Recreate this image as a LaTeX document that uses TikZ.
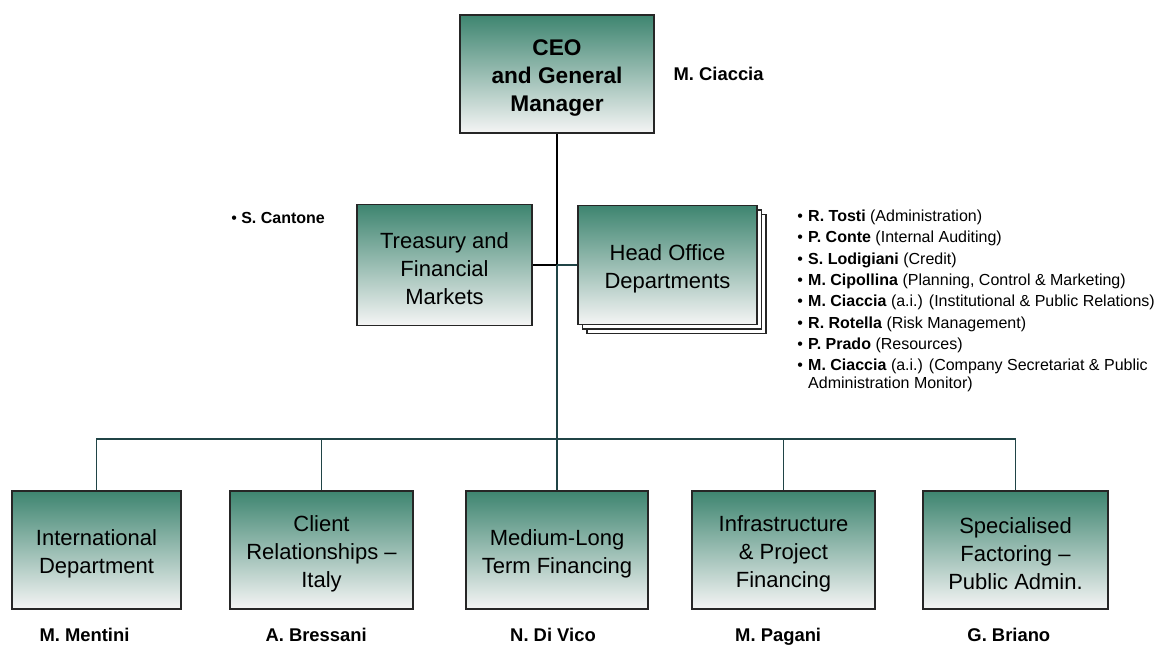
\documentclass[tikz,border=0pt]{standalone}
\usepackage{fontspec}
\setmainfont{Liberation Sans}
\usetikzlibrary{positioning}

\definecolor{boxgreen}{RGB}{62,133,112}
\definecolor{linkteal}{RGB}{32,68,70}

% lowers the text of a unit box a little
\newcommand{\firstline}{\rule{0pt}{17.5pt}}

\tikzset{
  unitbox/.style={rectangle,draw=black!85,line width=1pt,top color=boxgreen,middle color=boxgreen!40!white,bottom color=white!96!black,
    align=center,font=\fontsize{16.5}{20.8}\selectfont,inner sep=2pt,minimum height=88.5pt},
  stackcopy/.style={rectangle,draw=black!85,line width=1pt,fill=white,minimum width=134.25pt,minimum height=89.25pt},
  namelabel/.style={font=\fontsize{13.8}{16}\selectfont\bfseries,inner sep=0pt},
  link/.style={draw=linkteal,line width=0.9pt}
}

\begin{document}
\begin{tikzpicture}[x=0.75pt,y=-0.75pt]
\useasboundingbox (0,0) rectangle (1156,646);

% top of the chart
\node[unitbox,minimum width=145.5pt,font=\fontsize{17}{20.8}\selectfont\bfseries] (ceo) at (557,74) {\firstline CEO\\and General\\Manager};
\node[namelabel,right=14pt of ceo] (ceoname) {M. Ciaccia};

% staff units
\node[unitbox,minimum width=131.25pt,minimum height=90.75pt] (treasury) at (444.5,265) {\firstline Treasury and\\Financial\\Markets};
\node[anchor=west,inner sep=0pt,font=\fontsize{12}{13}\selectfont] (cantone) at (231,218) {\textbullet\ \textbf{S. Cantone}};

\node[stackcopy] (hodback) at (676.5,274) {};
\node[stackcopy] (hodmid) at (672,269.5) {};
\node[unitbox,minimum width=134.25pt,minimum height=89.25pt] (hod) at (667.5,265) {\firstline Head Office\\Departments};
\node[anchor=north west,inner sep=0pt,font=\fontsize{12}{13}\selectfont] (hodlist) at (797,209) {%
  \begin{tabular}{@{}l@{\hspace{4pt}}l@{}}
    \textbullet & \textbf{R. Tosti} (Administration)\\[3pt]
    \textbullet & \textbf{P. Conte} (Internal Auditing)\\[3pt]
    \textbullet & \textbf{S. Lodigiani} (Credit)\\[3pt]
    \textbullet & \textbf{M. Cipollina} (Planning, Control \& Marketing)\\[3pt]
    \textbullet & \textbf{M. Ciaccia} (a.i.) (Institutional \& Public Relations)\\[3pt]
    \textbullet & \textbf{R. Rotella} (Risk Management)\\[3pt]
    \textbullet & \textbf{P. Prado} (Resources)\\[3pt]
    \textbullet & \textbf{M. Ciaccia} (a.i.) (Company Secretariat \& Public\\
                & Administration Monitor)
  \end{tabular}};

% business units
\node[unitbox,minimum width=126.75pt] (intl) at (96.5,550) {\firstline International\\Department};
\node[unitbox,minimum width=137.25pt] (client) at (321.5,550) {\firstline Client\\Relationships --\\Italy};
\node[unitbox,minimum width=136.5pt] (medium) at (557,550) {\firstline Medium-Long\\Term Financing};
\node[unitbox,minimum width=137.25pt] (infra) at (783.5,550) {\firstline Infrastructure\\\& Project\\Financing};
\node[unitbox,minimum width=138.75pt] (special) at (1015.5,550) {\firstline Specialised\\Factoring --\\Public Admin.};

\node[namelabel,below=14pt of intl,xshift=-9pt] (mentini) {M. Mentini};
\node[namelabel,below=14pt of client,xshift=-4pt] (bressani) {A. Bressani};
\node[namelabel,below=14pt of medium,xshift=-3pt] (divico) {N. Di Vico};
\node[namelabel,below=14pt of infra,xshift=-4pt] (pagani) {M. Pagani};
\node[namelabel,below=14pt of special,xshift=-5pt] (briano) {G. Briano};

% connectors
\coordinate (tjoin) at (ceo.south |- treasury.east);
\coordinate (bus) at (557,439);
\draw[link,draw=black] (ceo.south) -- (tjoin);
\draw[link,draw=black] (treasury.east) -- (tjoin);
\draw[link] (tjoin) -- (hod.west);
\draw[link] (tjoin) -- (bus);
\foreach \unit in {intl,client,medium,infra,special}
  \draw[link] (bus) -| (\unit.north);
\end{tikzpicture}
\end{document}
